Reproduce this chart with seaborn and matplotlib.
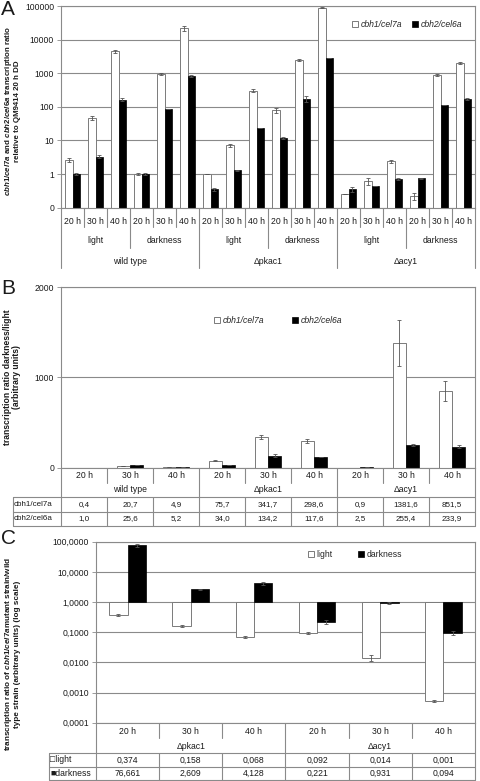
import numpy as np
import pandas as pd
import matplotlib
matplotlib.use('Agg')
import matplotlib.pyplot as plt
import matplotlib.transforms as mtransforms
from matplotlib.patches import Patch
import seaborn as sns

# ---------------- data ----------------
strains = ['wild type', 'Δpkac1', 'Δacy1']
conditions = ['light', 'darkness']
times = ['20 h', '30 h', '40 h']
genes = ['cbh1/cel7a', 'cbh2/cel6a']

# panel A: ratio relative to QM9414 20 h DD (order: strain > condition > time)
a_cbh1 = [2.7, 47, 4500, 1.0, 950, 21500,
          1.0, 7.3, 300, 78, 2500, 90000,
          0.25, 0.63, 2.4, 0.22, 880, 2000]
a_cbh1_err = [0.4, 6, 500, 0.08, 60, 4000,
              0.0, 0.7, 30, 12, 150, 5000,
              0.0, 0.15, 0.3, 0.05, 60, 150]
a_cbh2 = [1.0, 3.3, 165, 1.0, 85, 830,
          0.35, 1.28, 23, 12, 170, 2800,
          0.35, 0.45, 0.72, 0.76, 115, 172]
a_cbh2_err = [0.08, 0.3, 15, 0.05, 0, 80,
              0.03, 0.08, 0, 1, 35, 0,
              0.05, 0, 0.03, 0.03, 0, 15]

# panel B: darkness/light ratio (order: strain > time)
b_cbh1 = [0.4, 20.7, 4.9, 75.7, 341.7, 298.6, 0.9, 1381.6, 851.5]
b_cbh1_err = [0, 2, 0, 5, 25, 22, 0, 255, 110]
b_cbh2 = [1.0, 25.6, 5.2, 34.0, 134.2, 117.6, 2.5, 255.4, 233.9]
b_cbh2_err = [0, 0, 0, 0, 12, 0, 0, 10, 15]

# panel C: mutant / wild type ratio of cbh1/cel7a (order: strain > time)
c_strains = ['Δpkac1', 'Δacy1']
c_light = [0.374, 0.158, 0.068, 0.092, 0.014, 0.00052]
c_light_err = [0.03, 0.012, 0.005, 0.006, 0.003, 0.00005]
c_dark = [76.661, 2.609, 4.128, 0.221, 0.931, 0.094]
c_dark_err = [9, 0.15, 0.4, 0.04, 0.06, 0.015]
c_series = ['light', 'darkness']

# ---------------- style ----------------
sns.set_style('white')
plt.rcParams['font.family'] = ['Liberation Sans', 'DejaVu Sans']
plt.rcParams['mathtext.fontset'] = 'custom'
plt.rcParams['mathtext.it'] = 'Liberation Sans:italic:bold'
plt.rcParams['mathtext.rm'] = 'Liberation Sans:bold'
plt.rcParams['mathtext.bf'] = 'Liberation Sans:bold'

W, H = 480, 781
fig = plt.figure(figsize=(W / 100, H / 100), dpi=100)
GRAY = '#8a8a8a'
TXT = '#1a1a1a'
FS = 6.2


def px_axes(left, top, right, bottom):
    return fig.add_axes([left / W, 1 - bottom / H, (right - left) / W, (bottom - top) / H])


def fy(py):
    return 1 - py / H


def style_axes(ax):
    for s in ax.spines.values():
        s.set_color(GRAY)
        s.set_linewidth(0.8)
    ax.yaxis.grid(True, color=GRAY, lw=0.8)
    ax.set_axisbelow(True)
    ax.tick_params(axis='y', which='both', left=True, length=3, width=0.6,
                   color=GRAY, labelsize=FS, labelcolor=TXT, pad=2)
    ax.tick_params(axis='y', which='minor', left=False)
    ax.tick_params(axis='x', bottom=False, labelbottom=False)
    ax.set_xlabel('')
    ax.set_ylabel('')


def add_errors(ax, errs):
    for cont, err in zip(ax.containers, errs):
        xs = [b.get_x() + b.get_width() / 2 for b in cont]
        ys = [b.get_y() + b.get_height() for b in cont]
        ax.errorbar(xs, ys, yerr=err, fmt='none', ecolor='#555555',
                    elinewidth=0.6, capsize=1.6, capthick=0.6)


def color_bars(ax):
    for b in ax.containers[0]:
        b.set_facecolor('white')
        b.set_edgecolor('#7a7a7a')
        b.set_linewidth(0.7)
    for b in ax.containers[1]:
        b.set_facecolor('black')
        b.set_edgecolor('black')
        b.set_linewidth(0.5)


def vline(ax, x, y0, y1):
    trans = mtransforms.blended_transform_factory(ax.transData, fig.transFigure)
    ax.plot([x, x], [fy(y0), fy(y1)], color=GRAY, lw=0.8, transform=trans, clip_on=False)


def hline(x0, x1, y):
    fig.add_artist(plt.Line2D([x0 / W, x1 / W], [fy(y), fy(y)], color=GRAY, lw=0.8))


def cell_text(ax, x, y, s, fs=FS):
    trans = mtransforms.blended_transform_factory(ax.transData, fig.transFigure)
    ax.text(x, fy(y), s, ha='center', va='center', fontsize=fs, color=TXT,
            transform=trans, clip_on=False)


legend_handles = [Patch(facecolor='white', edgecolor='#7a7a7a', lw=0.7),
                  Patch(facecolor='black', edgecolor='black', lw=0.5)]

# ================= panel A =================
a_cats = [f'{s}|{c}|{t}' for s in strains for c in conditions for t in times]
dfa = pd.DataFrame({
    'cat': a_cats * 2,
    'gene': [genes[0]] * len(a_cats) + [genes[1]] * len(a_cats),
    'value': a_cbh1 + a_cbh2,
})
axA = px_axes(61, 6, 475, 207.7)
axA.set_yscale('log')
sns.barplot(data=dfa, x='cat', y='value', hue='gene', order=a_cats, hue_order=genes,
            palette=['white', 'black'], width=0.64, gap=0, errorbar=None,
            legend=False, ax=axA)
color_bars(axA)
add_errors(axA, [a_cbh1_err, a_cbh2_err])
axA.set_ylim(0.1, 100000)
axA.set_xlim(-0.5, len(a_cats) - 0.5)
a_ticks = [0.1, 1, 10, 100, 1000, 10000, 100000]
axA.yaxis.set_major_locator(matplotlib.ticker.FixedLocator(a_ticks))
axA.yaxis.set_minor_locator(matplotlib.ticker.NullLocator())
axA.set_yticklabels(['0'] + [str(int(t)) for t in a_ticks[1:]])
style_axes(axA)
axA.legend(legend_handles, genes, loc='center', bbox_to_anchor=(0.836, 0.906), ncol=2,
           frameon=False, prop={'style': 'italic', 'size': FS},
           handlelength=0.7, handleheight=0.7, handletextpad=0.3, columnspacing=1.2)

# category table under panel A
n = len(a_cats)
for i in range(n + 1):
    if i % 6 == 0:
        vline(axA, i - 0.5, 207.7, 268)
    elif i % 3 == 0:
        vline(axA, i - 0.5, 207.7, 248)
    else:
        vline(axA, i - 0.5, 207.7, 227)
for i, cat in enumerate(a_cats):
    cell_text(axA, i, 221.5, cat.split('|')[2])
for j in range(len(strains) * len(conditions)):
    cell_text(axA, j * 3 + 1, 240.5, conditions[j % 2])
for k, s in enumerate(strains):
    cell_text(axA, k * 6 + 2.5, 261, s)

# ================= panel B =================
b_cats = [f'{s}|{t}' for s in strains for t in times]
dfb = pd.DataFrame({
    'cat': b_cats * 2,
    'gene': [genes[0]] * len(b_cats) + [genes[1]] * len(b_cats),
    'value': b_cbh1 + b_cbh2,
})
axB = px_axes(61, 287, 475, 467.7)
sns.barplot(data=dfb, x='cat', y='value', hue='gene', order=b_cats, hue_order=genes,
            palette=['white', 'black'], width=0.57, gap=0, errorbar=None,
            legend=False, ax=axB)
color_bars(axB)
add_errors(axB, [b_cbh1_err, b_cbh2_err])
axB.set_ylim(0, 2000)
axB.set_xlim(-0.5, len(b_cats) - 0.5)
axB.set_yticks([0, 1000, 2000])
axB.set_yticklabels(['0', '1000', '2000'])
style_axes(axB)
axB.legend(legend_handles, genes, loc='center', bbox_to_anchor=(0.525, 0.817), ncol=2,
           frameon=False, prop={'style': 'italic', 'size': FS},
           handlelength=0.7, handleheight=0.7, handletextpad=0.3, columnspacing=3.2)

nb = len(b_cats)
for i in range(nb + 1):
    if i % 3 == 0:
        vline(axB, i - 0.5, 467.7, 526)
    else:
        vline(axB, i - 0.5, 467.7, 482.7)
        vline(axB, i - 0.5, 496.7, 526)
fig.add_artist(plt.Line2D([13 / W, 13 / W], [fy(496.7), fy(526)], color=GRAY, lw=0.8))
for yy in [496.7, 511.7, 526]:
    hline(13, 475, yy)
for i, cat in enumerate(b_cats):
    cell_text(axB, i, 475.5, cat.split('|')[1])
    cell_text(axB, i, 504.3, f'{b_cbh1[i]:.1f}'.replace('.', ','), fs=5.8)
    cell_text(axB, i, 519, f'{b_cbh2[i]:.1f}'.replace('.', ','), fs=5.8)
for k, s in enumerate(strains):
    cell_text(axB, k * 3 + 1, 489.3, s)
fig.text(14 / W, fy(504.3), genes[0], ha='left', va='center', fontsize=5.8, color=TXT)
fig.text(14 / W, fy(519), genes[1], ha='left', va='center', fontsize=5.8, color=TXT)

# ================= panel C =================
c_cats = [f'{s}|{t}' for s in c_strains for t in times]
dfc = pd.DataFrame({
    'cat': c_cats * 2,
    'series': [c_series[0]] * len(c_cats) + [c_series[1]] * len(c_cats),
    'log_value': list(np.log10(c_light)) + list(np.log10(c_dark)),
})
axC = px_axes(96, 541.7, 475, 722.7)
sns.barplot(data=dfc, x='cat', y='log_value', hue='series', order=c_cats, hue_order=c_series,
            palette=['white', 'black'], width=0.58, gap=0, errorbar=None,
            legend=False, ax=axC)
color_bars(axC)
# asymmetric error bars in log space
for cont, vals, errs in zip(axC.containers, [c_light, c_dark], [c_light_err, c_dark_err]):
    xs = [b.get_x() + b.get_width() / 2 for b in cont]
    v = np.array(vals)
    e = np.array(errs)
    lo = np.log10(v) - np.log10(np.maximum(v - e, 1e-6))
    hi = np.log10(v + e) - np.log10(v)
    axC.errorbar(xs, np.log10(v), yerr=[lo, hi], fmt='none', ecolor='#555555',
                 elinewidth=0.6, capsize=1.6, capthick=0.6)
c_exps = [-4, -3, -2, -1, 0, 1, 2]
axC.set_ylim(-4, 2)
axC.set_xlim(-0.5, len(c_cats) - 0.5)
axC.set_yticks(c_exps)
axC.set_yticklabels([f'{10.0 ** k:.4f}'.replace('.', ',') for k in c_exps])
style_axes(axC)
axC.legend(legend_handles, c_series, loc='center', bbox_to_anchor=(0.683, 0.927), ncol=2,
           frameon=False, prop={'size': FS},
           handlelength=0.7, handleheight=0.7, handletextpad=0.3, columnspacing=3.0)

nc = len(c_cats)
for i in range(nc + 1):
    if i % 3 == 0:
        vline(axC, i - 0.5, 722.7, 780)
    else:
        vline(axC, i - 0.5, 722.7, 738)
        vline(axC, i - 0.5, 753.3, 780)
fig.add_artist(plt.Line2D([49.3 / W, 49.3 / W], [fy(753.3), fy(780)], color=GRAY, lw=0.8))
for yy in [753.3, 766.7, 780]:
    hline(49.3, 475, yy)
for i, cat in enumerate(c_cats):
    cell_text(axC, i, 731.5, cat.split('|')[1])
    cell_text(axC, i, 760, f'{c_light[i]:.3f}'.replace('.', ','))
    cell_text(axC, i, 773.3, f'{c_dark[i]:.3f}'.replace('.', ','))
for k, s in enumerate(c_strains):
    cell_text(axC, k * 3 + 1, 746.5, s)
fig.text(50.5 / W, fy(760), '□light', ha='left', va='center', fontsize=FS, color=TXT)
fig.text(50.5 / W, fy(773.3), '■darkness', ha='left', va='center', fontsize=FS, color=TXT)

# ---------------- labels ----------------
fig.text(12 / W, fy(111),
         r'$\mathit{cbh1/cel7a}$ and $\mathit{cbh2/cel6a}$ transcription ratio'
         '\nrelative to QM9414 20 h DD',
         rotation=90, ha='center', va='center', multialignment='center',
         fontsize=5.7, fontweight='bold', color=TXT, linespacing=1.05)
fig.text(12 / W, fy(377),
         'transcription ratio darkness/light\n(arbitrary units)',
         rotation=90, ha='center', va='center', multialignment='center',
         fontsize=6.2, fontweight='bold', color=TXT, linespacing=1.0)
fig.text(12 / W, fy(654),
         r'transcription ratio of $\mathit{cbh1/cel7a}$mutant strain/wild'
         '\ntype strain (arbitrary units) (log scale)',
         rotation=90, ha='center', va='center', multialignment='center',
         fontsize=5.9, fontweight='bold', color=TXT, linespacing=1.05)

for letter, ypx in [('A', 0), ('B', 279), ('C', 529)]:
    fig.text(1 / W, fy(ypx), letter, ha='left', va='top', fontsize=15, color=TXT)

fig.savefig('out.png', dpi=100)
